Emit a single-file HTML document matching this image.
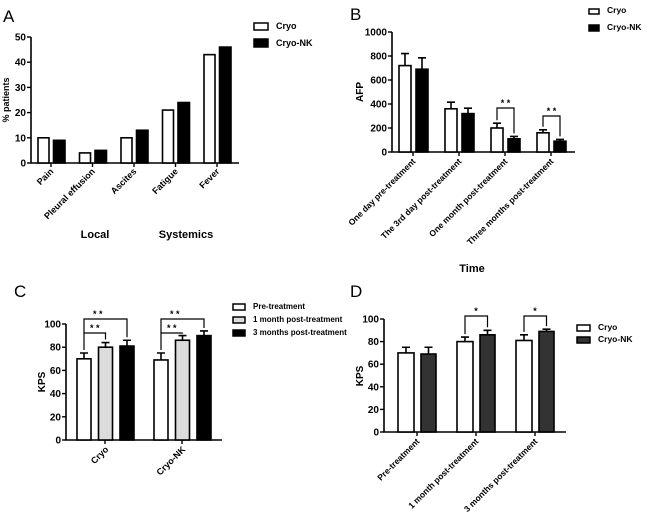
<!DOCTYPE html>
<html><head><meta charset="utf-8">
<style>
html,body{margin:0;padding:0;background:#fff;}
svg{display:block;font-family:"Liberation Sans",Arial,sans-serif;}
text{fill:#000;}
</style></head>
<body>
<svg id="fig" width="650" height="520" viewBox="0 0 650 520" xmlns="http://www.w3.org/2000/svg"></svg>
<script>
// Panel A data
const aCategories = ["Pain","Pleural effusion","Ascites","Fatigue","Fever"];
const aCryo = [10,4,10,21,43];
const aCryoNK = [9,5,13,24,46];
const aTicks = [0,10,20,30,40,50];
// Panel B data
const bCategories = ["One day pre-treatment","The 3rd day post-treatment","One month post-treatment","Three months post-treatment"];
const bCryo = [720,360,200,160];
const bCryoErr = [820,415,240,185];
const bCryoNK = [690,320,110,90];
const bCryoNKErr = [785,365,130,105];
const bTicks = [0,200,400,600,800,1000];
// Panel C data
const cCategories = ["Cryo","Cryo-NK"];
const cPre = [70,69];
const cPreErr = [75,75];
const cOne = [80,86];
const cOneErr = [84,90];
const cThree = [81,90];
const cThreeErr = [86,94];
const cTicks = [0,20,40,60,80,100];
// Panel D data
const dCategories = ["Pre-treatment","1 month post-treatment","3 months post-treatment"];
const dCryo = [70,80,81];
const dCryoErr = [75,84,86];
const dCryoNK = [69,86,89];
const dCryoNKErr = [75,90,91];
const dTicks = [0,20,40,60,80,100];

const svg = document.getElementById('fig');
const NS = "http://www.w3.org/2000/svg";
function el(tag, attrs, parent){
  const e = document.createElementNS(NS, tag);
  for (const k in attrs) e.setAttribute(k, attrs[k]);
  (parent||svg).appendChild(e);
  return e;
}
function txt(s, x, y, size, weight, anchor, rot){
  const t = el('text', {x:x, y:y, 'font-size':size, 'font-weight':weight||'bold', 'text-anchor':anchor||'start'});
  if (rot) t.setAttribute('transform', 'rotate('+rot+' '+x+' '+y+')');
  t.textContent = s;
  return t;
}
function bar(x, w, y0, y1, fill, name){
  const r = el('rect', {x:x, y:y1, width:w, height:y0-y1, fill:fill, stroke:'#000', 'stroke-width':1.6});
  
  
  return r;
}
function errbar(cx, ytop, yv, name){
  const p = el('path', {d:'M'+cx+' '+yv+'V'+ytop+'M'+(cx-4)+' '+ytop+'H'+(cx+4), stroke:'#000', 'stroke-width':1.6, fill:'none'});
  
  
}
function yaxis(x, y0, y1, ticks, scale, xEnd, name){
  const g = el('g', {});
  
  
  el('path', {d:'M'+x+' '+y1+'V'+y0+'H'+xEnd, stroke:'#000', 'stroke-width':1.6, fill:'none'}, g);
  ticks.forEach(v=>{
    const y = scale(v);
    el('path', {d:'M'+(x-4)+' '+y+'H'+x, stroke:'#000', 'stroke-width':1.4}, g);
    const t = el('text', {x:x-5, y:y+3.5, 'font-size':10, 'font-weight':'bold', 'text-anchor':'end'}, g);
    t.textContent = v;
  });
}
function legendBox(x, y, w, h, fill, label, size, name){
  const g = el('g', {});
  
  
  el('rect', {x:x, y:y, width:w, height:h, fill:fill, stroke:'#000', 'stroke-width':1.5}, g);
  const t = el('text', {x:x+w+8, y:y+h-1, 'font-size':size, 'font-weight':'bold'}, g);
  t.textContent = label;
}

// ============ Panel A ============
txt('A', 3, 22, 17, 'normal');
const aY = v => 163 - v/50*126;
yaxis(31, 163, 37, aTicks, aY, 239, 'panel-a-y-axis');
txt('% patients', 9, 100, 9, 'bold', 'middle', -90);
aCategories.forEach((c,i)=>{
  const gx = 38 + i*41.5;
  bar(gx, 11, 163, aY(aCryo[i]), '#fff', 'panel-a-bar-cryo-'+i);
  bar(gx+15.5, 11.5, 163, aY(aCryoNK[i]), '#000', 'panel-a-bar-cryonk-'+i);
  const tx = gx+13;
  el('path', {d:'M'+tx+' 163V167', stroke:'#000','stroke-width':1.4});
  const t = txt(c, tx+3, 172, 9, 'bold', 'end', -45);
  
});
txt('Local', 95, 238, 11, 'bold', 'middle');
txt('Systemics', 186, 238, 11, 'bold', 'middle');
legendBox(254, 23, 14, 7, '#fff', 'Cryo', 9, 'panel-a-legend-cryo');
legendBox(254, 39, 14, 8, '#000', 'Cryo-NK', 9, 'panel-a-legend-cryonk');

// ============ Panel B ============
txt('B', 350, 20, 17, 'normal');
const bY = v => 152 - v/1000*120;
yaxis(392, 152, 32, bTicks, bY, 575, 'panel-b-y-axis');
txt('AFP', 363, 92, 10, 'bold', 'middle', -90);
bCategories.forEach((c,i)=>{
  const gx = 399 + i*46;
  errbar(gx+6, bY(bCryoErr[i]), bY(bCryo[i]), 'panel-b-err-cryo-'+i);
  errbar(gx+23, bY(bCryoNKErr[i]), bY(bCryoNK[i]), 'panel-b-err-cryonk-'+i);
  bar(gx, 12, 152, bY(bCryo[i]), '#fff', 'panel-b-bar-cryo-'+i);
  bar(gx+17, 12, 152, bY(bCryoNK[i]), '#000', 'panel-b-bar-cryonk-'+i);
  const tx = gx+14;
  el('path', {d:'M'+tx+' 152V156', stroke:'#000','stroke-width':1.4});
  txt(c, tx+3, 162, 8.5, 'bold', 'end', -45);
  if (i>=2){
    const top = i==2 ? 108 : 116;
    const p = el('path', {d:'M'+(gx+6)+' '+(bY(bCryoErr[i])-3)+'V'+top+'H'+(gx+23)+'V'+(bY(bCryoNKErr[i])-3), stroke:'#000','stroke-width':1.2, fill:'none'});
    
    
    txt('* *', gx+14.5, top-2, 9, 'bold', 'middle');
  }
});
txt('Time', 472, 272, 11, 'bold', 'middle');
legendBox(589, 9, 10, 5, '#fff', 'Cryo', 8.5, 'panel-b-legend-cryo');
legendBox(589, 25, 10, 6, '#000', 'Cryo-NK', 8.5, 'panel-b-legend-cryonk');

// ============ Panel C ============
txt('C', 14, 297, 17, 'normal');
const cY = v => 440 - v/100*116;
yaxis(66, 440, 324, cTicks, cY, 222, 'panel-c-y-axis');
txt('KPS', 45, 382, 10, 'bold', 'middle', -90);
cCategories.forEach((c,i)=>{
  const gx = 77 + i*77;
  const xs = [gx, gx+21.5, gx+43];
  const vals = [cPre[i], cOne[i], cThree[i]];
  const errs = [cPreErr[i], cOneErr[i], cThreeErr[i]];
  const fills = ['#fff','#dcdcdc','#000'];
  const nm = ['pre','1month','3months'];
  for (let k=0;k<3;k++){
    errbar(xs[k]+7, cY(errs[k]), cY(vals[k]), 'panel-c-err-'+nm[k]+'-'+i);
    bar(xs[k], 14, 440, cY(vals[k]), fills[k], 'panel-c-bar-'+nm[k]+'-'+i);
  }
  const tx = gx+28;
  el('path', {d:'M'+tx+' 440V444', stroke:'#000','stroke-width':1.4});
  txt(c, tx+4, 450, 9, 'bold', 'end', -45);
  const b1 = el('path', {d:'M'+(xs[0]+7)+' '+(cY(errs[0])-3)+'V333H'+(xs[1]+7)+'V'+(cY(errs[1])-3), stroke:'#000','stroke-width':1.2, fill:'none'});
  
  
  txt('* *', (xs[0]+xs[1])/2+7, 331, 9, 'bold', 'middle');
  const b2 = el('path', {d:'M'+(xs[0]+7)+' 333V319H'+(xs[2]+7)+'V'+(cY(errs[2])-3), stroke:'#000','stroke-width':1.2, fill:'none'});
  
  
  txt('* *', (xs[0]+xs[1])/2+10, 317, 9, 'bold', 'middle');
});
legendBox(233, 304, 12, 6, '#fff', 'Pre-treatment', 8, 'panel-c-legend-pre');
legendBox(233, 317, 12, 6, '#dcdcdc', '1 month post-treatment', 8, 'panel-c-legend-1month');
legendBox(233, 330, 12, 6, '#000', '3 months post-treatment', 8, 'panel-c-legend-3months');

// ============ Panel D ============
txt('D', 350, 297, 17, 'normal');
const dY = v => 432 - v/100*113;
yaxis(384, 432, 319, dTicks, dY, 566, 'panel-d-y-axis');
txt('KPS', 363, 376, 10, 'bold', 'middle', -90);
dCategories.forEach((c,i)=>{
  const gx = 398 + i*59;
  errbar(gx+8, dY(dCryoErr[i]), dY(dCryo[i]), 'panel-d-err-cryo-'+i);
  errbar(gx+30.5, dY(dCryoNKErr[i]), dY(dCryoNK[i]), 'panel-d-err-cryonk-'+i);
  bar(gx, 16, 432, dY(dCryo[i]), '#fff', 'panel-d-bar-cryo-'+i);
  bar(gx+23, 15, 432, dY(dCryoNK[i]), '#333', 'panel-d-bar-cryonk-'+i);
  const tx = gx+19;
  el('path', {d:'M'+tx+' 432V436', stroke:'#000','stroke-width':1.4});
  txt(c, tx+3, 442, 8.5, 'bold', 'end', -45);
  if (i>=1){
    const p = el('path', {d:'M'+(gx+8)+' '+(dY(dCryoErr[i])-3)+'V316H'+(gx+30.5)+'V'+(dY(dCryoNKErr[i])-3), stroke:'#000','stroke-width':1.2, fill:'none'});
    
    
    txt('*', gx+19, 314, 9, 'bold', 'middle');
  }
});
legendBox(577, 325, 13, 6, '#fff', 'Cryo', 8.5, 'panel-d-legend-cryo');
legendBox(577, 337, 13, 6, '#333', 'Cryo-NK', 8.5, 'panel-d-legend-cryonk');
</script>
</body></html>
